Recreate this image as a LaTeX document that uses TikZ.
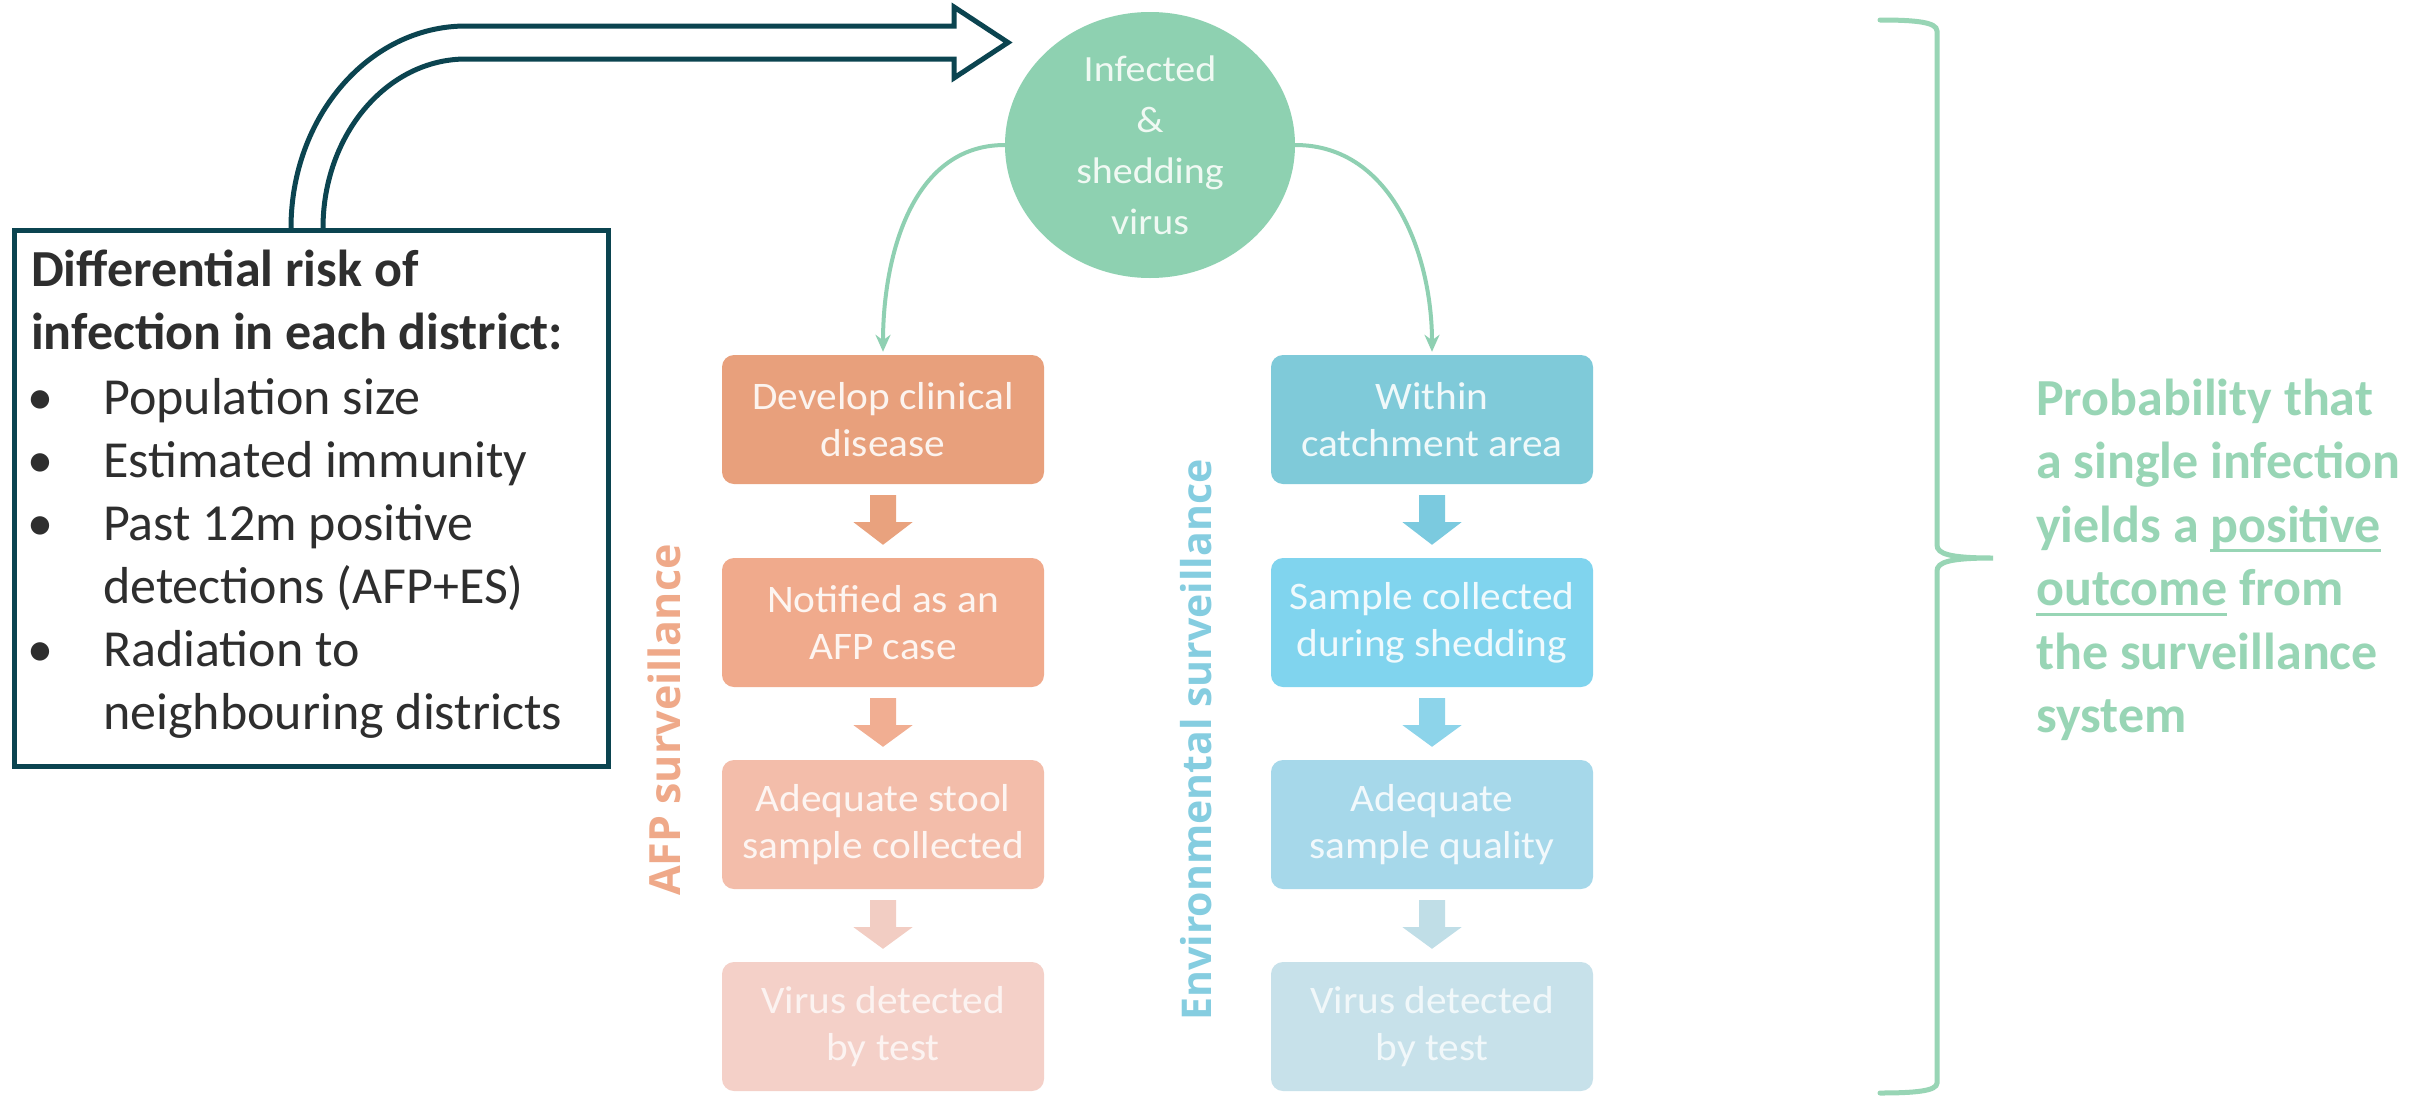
\documentclass[tikz,border=0pt]{standalone}
\usepackage{fontspec}
\setmainfont{Carlito}
\newfontfamily\boxfont[FakeStretch=1.06]{Carlito}
\newfontfamily\circfont[FakeStretch=1.08]{Carlito}
\newfontfamily\vfont{Open Sans}
\usetikzlibrary{arrows.meta,calc,shapes.geometric}
\definecolor{tealdark}{HTML}{0B4450}
\definecolor{txtdark}{HTML}{2E2E2E}
\definecolor{circgreen}{HTML}{8ED1B1}
\definecolor{circtxt}{HTML}{F0F9F3}
\definecolor{conngreen}{HTML}{8FD0B2}
\definecolor{bracegreen}{HTML}{98D5B5}
\definecolor{afpA}{HTML}{E8A07C}
\definecolor{afpB}{HTML}{F0AA8C}
\definecolor{afpC}{HTML}{F3BDAA}
\definecolor{afpD}{HTML}{F4D0C8}
\definecolor{esA}{HTML}{7FCAD9}
\definecolor{esB}{HTML}{80D4EE}
\definecolor{esC}{HTML}{A6D8EA}
\definecolor{esD}{HTML}{C7E1EA}
\definecolor{afpArrA}{HTML}{E9A27E}
\definecolor{afpArrB}{HTML}{F1AE92}
\definecolor{afpArrC}{HTML}{F2CDC3}
\definecolor{esArrA}{HTML}{7BCADF}
\definecolor{esArrB}{HTML}{8DD4EA}
\definecolor{esArrC}{HTML}{C0DEE7}
\definecolor{afpT}{HTML}{EFA989}
\definecolor{esT}{HTML}{85CDE0}
\newcommand\myul[1]{\setbox0\hbox{#1}\rlap{\rule[-10pt]{\wd0}{3pt}}\box0\relax}
\newcommand\blockarr[3]{%
  \fill[#3] ($(#1.south)+(-13,11)$) -- ($(#1.south)+(13,11)$) -- ($(#1.south)+(13,38)$)
    -- ($(#1.south)+(29.5,38)$) -- ($(#2.north)+(0,-13)$) -- ($(#1.south)+(-29.5,38)$)
    -- ($(#1.south)+(-13,38)$) -- cycle;}
\tikzset{
  flowbox/.style={rounded corners=12pt, minimum width=322pt, minimum height=129pt,
    inner sep=0pt, align=center, font=\boxfont\fontsize{39}{47}\selectfont},
  gconn/.style={draw=conngreen, line width=4pt, -{Stealth[length=17pt,width=15pt]}, shorten >=3pt},
  tealline/.style={draw=tealdark, line width=5pt, line join=miter},
  hdr/.style={anchor=base west, inner sep=0pt, text=txtdark, font=\bfseries\fontsize{52}{63}\selectfont},
  itm/.style={anchor=base west, inner sep=0pt, text=txtdark, font=\fontsize{52}{63}\selectfont},
  bul/.style={anchor=base, inner sep=0pt, text=txtdark, font=\fontsize{52}{63}\selectfont},
  rtxt/.style={anchor=base west, inner sep=0pt, text=bracegreen, font=\bfseries\fontsize{52}{63}\selectfont}
}
\begin{document}
\begin{tikzpicture}[x=1pt,y=-1pt]
\useasboundingbox (0,0) rectangle (2428,1095);
\fill[white] (0,0) rectangle (2428,1095);

% big hollow bent arrow
\draw[tealline] (291,228) arc[start angle=180,end angle=270,x radius=175,y radius=202]
  -- (954,26) -- (954,7) -- (1008,42.5) -- (954,78) -- (954,59) -- (466,59)
  arc[start angle=270,end angle=180,x radius=143,y radius=169];

% risk box
\node[draw=tealdark, line width=5pt, fill=white, minimum width=594pt, minimum height=536pt,
  anchor=north west, inner sep=0pt] (riskbox) at (12,228) {};
\node[hdr] (h1) at (31,286) {Differential risk of};
\node[hdr] (h2) at (31,349) {infection in each district:};
\node[bul] (b1) at (40,414) {\textbullet};
\node[itm] (i1) at (103,414) {Population size};
\node[bul] (b2) at (40,477) {\textbullet};
\node[itm] (i2) at (103,477) {Estimated immunity};
\node[bul] (b3) at (40,540) {\textbullet};
\node[itm] (i3) at (103,540) {Past 12m positive};
\node[itm] (i3b) at (103,603) {detections (AFP+ES)};
\node[bul] (b4) at (40,666) {\textbullet};
\node[itm] (i4) at (103,666) {Radiation to};
\node[itm] (i4b) at (103,729) {neighbouring districts};

% circle
\node[ellipse, fill=circgreen, minimum width=290pt, minimum height=266pt, inner sep=0pt,
  align=center, text=circtxt, font=\circfont\fontsize{37}{51}\selectfont] (inf) at (1150,145)
  {Infected\\\&\\shedding\\virus};

% flow boxes
\node[flowbox, fill=afpA, text=white!88!afpA] (afp1) at (883,419.5) {Develop clinical\\disease};
\node[flowbox, fill=afpB, text=white!88!afpB] (afp2) at (883,622.5) {Notified as an\\AFP case};
\node[flowbox, fill=afpC, text=white!85!afpC] (afp3) at (883,824.5) {Adequate stool\\sample collected};
\node[flowbox, fill=afpD, text=white!75!afpD] (afp4) at (883,1026.5) {Virus detected\\by test};
\node[flowbox, fill=esA, text=white!88!esA] (es1) at (1432,419.5) {Within\\catchment area};
\node[flowbox, fill=esB, text=white!88!esB] (es2) at (1432,622.5) {Sample collected\\during shedding};
\node[flowbox, fill=esC, text=white!85!esC] (es3) at (1432,824.5) {Adequate\\sample quality};
\node[flowbox, fill=esD, text=white!75!esD] (es4) at (1432,1026.5) {Virus detected\\by test};

\blockarr{afp1}{afp2}{afpArrA}
\blockarr{afp2}{afp3}{afpArrB}
\blockarr{afp3}{afp4}{afpArrC}
\blockarr{es1}{es2}{esArrA}
\blockarr{es2}{es3}{esArrB}
\blockarr{es3}{es4}{esArrC}

% green connectors
\draw[gconn] (inf.west) to[out=180,in=90] (afp1.north);
\draw[gconn] (inf.east) to[out=0,in=90] (es1.north);

% rotated labels
\node[rotate=90, inner sep=0pt, text=afpT, font=\vfont\bfseries\fontsize{43}{50}\selectfont] (afplab) at (664,720) {AFP surveillance};
\node[rotate=90, inner sep=0pt, text=esT, font=\vfont\bfseries\fontsize{41}{50}\selectfont] (eslab) at (1196,740) {Environmental surveillance};

% brace
\draw[draw=bracegreen, line width=5pt, line cap=round]
  (1880,20) .. controls (1915,20) and (1937,22) .. (1937,31) -- (1937,545)
  .. controls (1937,554) and (1950,558) .. (1993,558)
  .. controls (1950,558) and (1937,562) .. (1937,571) -- (1937,1083)
  .. controls (1937,1091) and (1915,1093) .. (1880,1093);

% right text
\node[rtxt] (r1) at (2036,415) {Probability that};
\node[rtxt] (r2) at (2036,478.5) {a single infection};
\node[rtxt] (r3) at (2036,542) {yields a \myul{positive}};
\node[rtxt] (r4) at (2036,605.5) {\myul{outcome} from};
\node[rtxt] (r5) at (2036,669) {the surveillance};
\node[rtxt] (r6) at (2036,732.5) {system};
\end{tikzpicture}
\end{document}
